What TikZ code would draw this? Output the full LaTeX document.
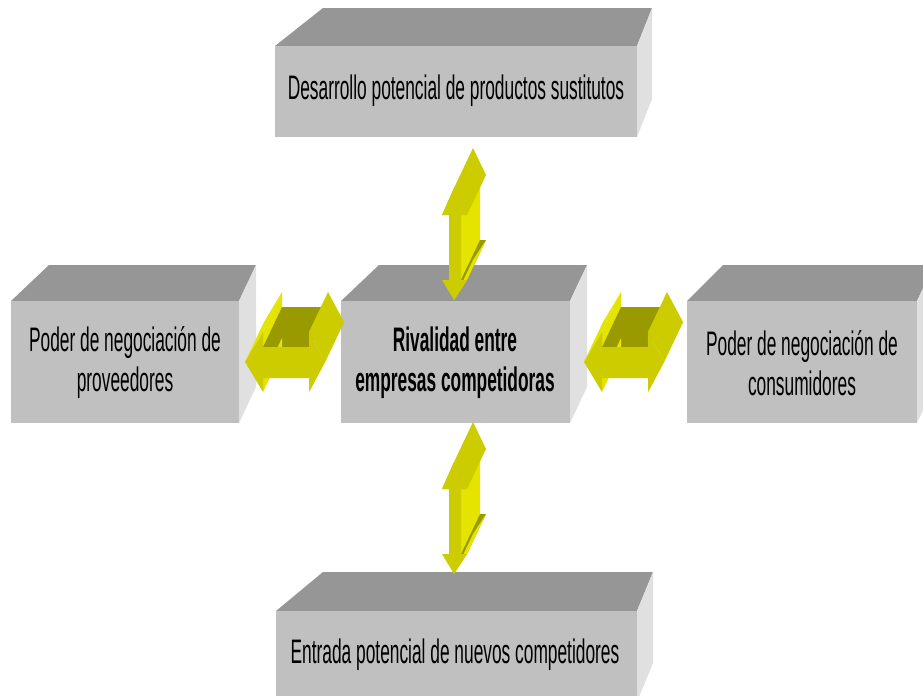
\documentclass[tikz,border=0pt]{standalone}
\usepackage{fontspec}
\setmainfont[FakeStretch=0.51]{Liberation Sans}
\usetikzlibrary{calc}

\definecolor{boxfront}{HTML}{C0C0C0}
\definecolor{boxtop}{HTML}{969696}
\definecolor{boxside}{HTML}{E0E0E0}
\definecolor{arrmain}{HTML}{CCCC00}
\definecolor{arrlight}{HTML}{E4E400}
\definecolor{arrdark}{HTML}{999900}

\tikzset{
  boxface/.style={fill=boxfront},
  boxlid/.style={fill=boxtop},
  boxwall/.style={fill=boxside},
  arrface/.style={fill=arrmain},
  arrshine/.style={fill=arrlight},
  arrshade/.style={fill=arrdark},
  boxtext/.style={font=\fontsize{17}{20}\selectfont, align=center, text=black, inner sep=0pt},
}

\begin{document}
\begin{tikzpicture}[x=0.5pt,y=-0.5pt]
	\clip (0,0) rectangle (923,696);
	\fill[white] (0,0) rectangle (923,696);
	% cajas
	\fill[boxlid] (275,46) -- (637,46) -- (652,8) -- (323,8) -- cycle;
	\fill[boxwall] (637,46) -- (652,8) -- (652,99) -- (637,137) -- cycle;
	\fill[boxface] (275,46) rectangle (637,137);
	\fill[boxlid] (11,301) -- (239,301) -- (256,265) -- (49,265) -- cycle;
	\fill[boxwall] (239,301) -- (256,265) -- (256,387) -- (239,423) -- cycle;
	\fill[boxface] (11,301) rectangle (239,423);
	\fill[boxlid] (341,301) -- (570,301) -- (587,265) -- (379,265) -- cycle;
	\fill[boxwall] (570,301) -- (587,265) -- (587,387) -- (570,423) -- cycle;
	\fill[boxface] (341,301) rectangle (570,423);
	\fill[boxlid] (687,301) -- (917,301) -- (934,265) -- (723,265) -- cycle;
	\fill[boxwall] (917,301) -- (934,265) -- (934,387) -- (917,423) -- cycle;
	\fill[boxface] (687,301) rectangle (917,423);
	\fill[boxlid] (276,611) -- (637,611) -- (653,572) -- (323,572) -- cycle;
	\fill[boxwall] (637,611) -- (653,572) -- (653,663) -- (637,702) -- cycle;
	\fill[boxface] (276,611) rectangle (637,702);
	% flechas verticales
	\foreach \dy in {0,274} {
	\begin{scope}[shift={(0,\dy)}]
		\fill[arrshine] (461,215) -- (480,175) -- (480,240) -- (461,280) -- cycle;
		\fill[arrshade] (461,280) -- (467,280) -- (486,240) -- (480,240) -- cycle;
		\fill[arrshine] (467,280) -- (486,240) -- (473,260) -- (454,300) -- cycle;
		\fill[arrface] (442,215) -- (454,188) -- (473,148) -- (486,175) -- (467,215) -- cycle;
		\fill[arrface] (454,188) -- (467,215) -- (461,215) -- (461,280) -- (467,280) -- (454,300)
			-- (442,280) -- (449,280) -- (449,215) -- (442,215) -- cycle;
	\end{scope}
	}
	% flechas horizontales
	\foreach \dx in {0,339} {
	\begin{scope}[shift={(\dx,0)}]
		\fill[arrshine] (245,362) -- (263,332) -- (282,292) -- (264,322) -- cycle;
		\fill[arrshine] (263,332) -- (282,292) -- (282,307) -- (263,347) -- cycle;
		\fill[arrshade] (263,347) -- (309,347) -- (328,307) -- (282,307) -- cycle;
		\fill[arrface] (309,332) -- (325,362) -- (344,322) -- (328,292) -- cycle;
		\fill[arrface] (325,362) -- (309,392) -- (328,352) -- (344,322) -- cycle;
		\fill[arrshine] (263,378) -- (263,392) -- (282,352) -- (282,338) -- cycle;
		\fill[arrface] (245,362) -- (263,332) -- (263,347) -- (309,347) -- (309,332) -- (325,362)
			-- (309,392) -- (309,378) -- (263,378) -- (263,392) -- cycle;
	\end{scope}
	}
	% textos
	\node[boxtext] (sustitutos) at (456,91) {Desarrollo potencial de productos sustitutos};
	\node[boxtext] (proveedores) at (125,363) {Poder de negociación de\\proveedores};
	\node[boxtext, font=\fontsize{17}{20}\selectfont\bfseries] (rivalidad) at (455,363) {Rivalidad entre\\empresas competidoras};
	\node[boxtext] (consumidores) at (802,363) {Poder de negociación de\\consumidores};
	\node[boxtext] (entrantes) at (455,655) {Entrada potencial de nuevos competidores};
\end{tikzpicture}
\end{document}
